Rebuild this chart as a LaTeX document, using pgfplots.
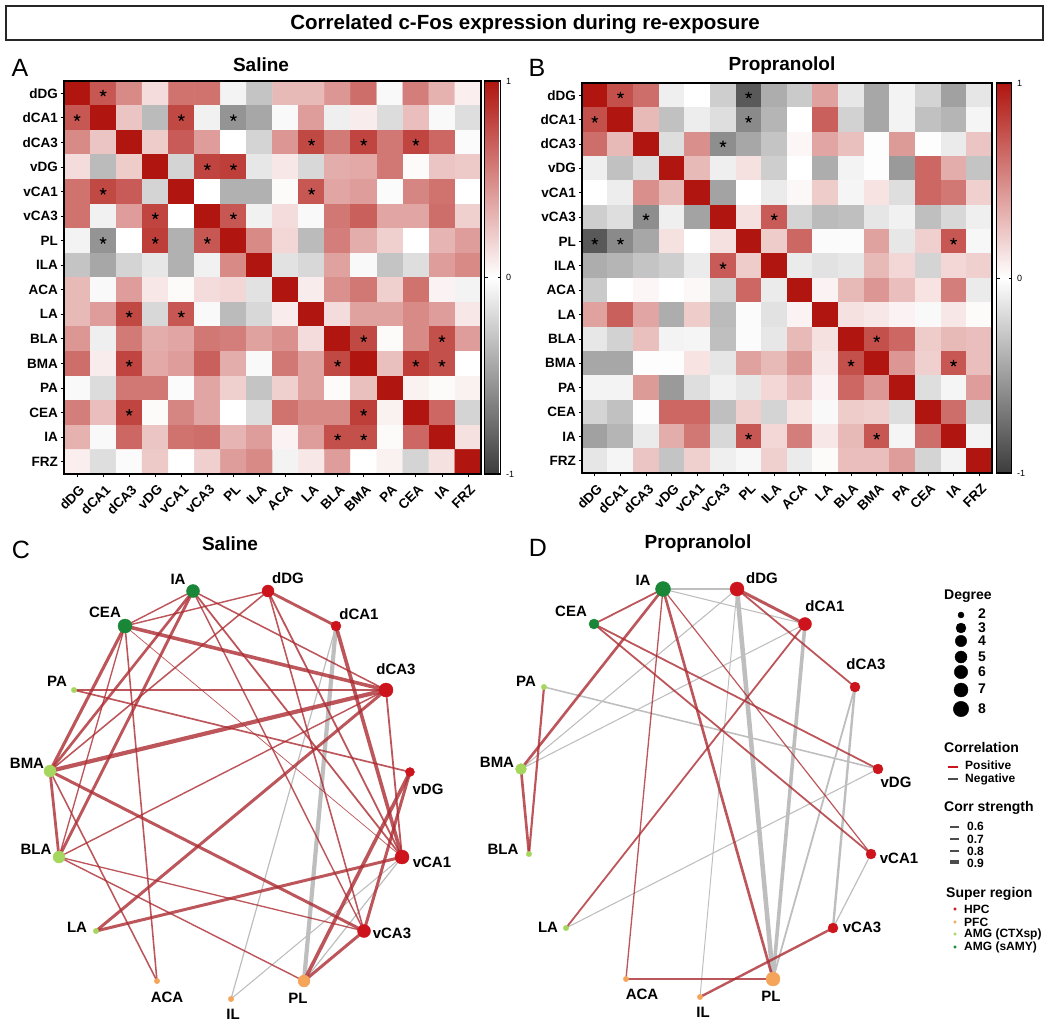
\documentclass[border=0pt]{standalone}
\usepackage{fontspec}
\setmainfont{Liberation Sans}
\usepackage{pgfplots}
\pgfplotsset{compat=1.18}
\definecolor{hpc}{RGB}{205,20,28}
\definecolor{pfc}{RGB}{245,165,90}
\definecolor{ctx}{RGB}{165,215,95}
\definecolor{samy}{RGB}{25,135,55}
\definecolor{pose}{RGB}{172,44,50}
\definecolor{nege}{RGB}{190,190,190}
\newcommand{\fs}[1]{\fontsize{#1}{#1}\selectfont}
\pgfplotsset{
  colormap={corr}{rgb255=(60,60,60) rgb255=(255,255,255) rgb255=(176,21,15)},
  heat/.style={
    scale only axis, enlargelimits=false,
    y dir=reverse,
    xmin=-0.5, xmax=15.5, ymin=-0.5, ymax=15.5,
    point meta min=-1, point meta max=1,
    xtick={0,...,15}, ytick={0,...,15},
    xticklabels={dDG,dCA1,dCA3,vDG,vCA1,vCA3,PL,ILA,ACA,LA,BLA,BMA,PA,CEA,IA,FRZ},
    yticklabels={dDG,dCA1,dCA3,vDG,vCA1,vCA3,PL,ILA,ACA,LA,BLA,BMA,PA,CEA,IA,FRZ},
    xtick pos=lower, xticklabel pos=lower, ytick pos=lower, yticklabel pos=lower,
    tick align=outside, major tick length=3.5pt,
    tick style={black, line width=0.8pt},
    yticklabel style={font=\fs{13.5}\bfseries, xshift=1pt},
    xticklabel style={font=\fs{13.5}\bfseries, rotate=45, anchor=north east, xshift=0pt, yshift=-2pt},
    after end axis/.code={\draw[line width=2pt, black] (rel axis cs:0,0) rectangle (rel axis cs:1,1);},
    colorbar,
  },
  cbar/.style={
    at={(parent axis.north east)}, anchor=north west, xshift=#1,
    ytick={-1,0,1}, yticklabels={-1,0,1},
    yticklabel style={font=\fs{9}, xshift=2pt},
    major tick length=3pt,
    tick style={black, line width=0.6pt},
    ytick pos=both, yticklabel pos=upper, tick align=inside,
    after end axis/.code={\draw[line width=1.5pt, black] (rel axis cs:0,0) rectangle (rel axis cs:1,1);},
  },
  stars/.style={only marks, mark=star, mark size=3.4pt, mark options={black, line width=1.2pt}},
  ep/.style={pose, draw opacity=0.8, no marks, line width=1.2*#1pt},
  en/.style={nege, no marks, line width=1.2*#1pt},
  nd/.style={only marks, mark=*, mark size=#1, mark options={draw=none}},
}
\begin{document}
\begin{tikzpicture}[x=1pt,y=1pt]
\useasboundingbox (0,0) rectangle (1050pt,1025pt);

% page wide axis in pixel coordinates, for both networks and all the text
\begin{axis}[
  at={(0,0)}, anchor=south west, scale only axis, width=1050pt, height=1025pt,
  xmin=0, xmax=1050, ymin=0, ymax=1025, y dir=reverse,
  hide axis, clip=false,
]
\draw[line width=1.6pt, black!85] (axis cs:6,6) rectangle (axis cs:1043,40);
\node[font=\fs{20.5}\bfseries] at (axis cs:525,24) {Correlated c-Fos expression during re-exposure};
\node[font=\fs{19}\bfseries] at (axis cs:261,65) {Saline};
\node[font=\fs{19}\bfseries] at (axis cs:782,66) {Propranolol};
\node[font=\fs{19}\bfseries] at (axis cs:230,544) {Saline};
\node[font=\fs{19}\bfseries] at (axis cs:698,544) {Propranolol};
\node[font=\fs{25}] at (axis cs:20,68) {A};
\node[font=\fs{25}] at (axis cs:537,68) {B};
\node[font=\fs{25}] at (axis cs:21,550) {C};
\node[font=\fs{25}] at (axis cs:538,548) {D};

% C nodes
\addplot[nd=6.5pt, samy] coordinates {(193,591)};
\addplot[nd=7pt, samy] coordinates {(125,626)};
\addplot[nd=6pt, hpc] coordinates {(268,591)};
\addplot[nd=5pt, hpc] coordinates {(336,626)};
\addplot[nd=7pt, hpc] coordinates {(386,690)};
\addplot[nd=4.5pt, hpc] coordinates {(410,772)};
\addplot[nd=7pt, hpc] coordinates {(402,857)};
\addplot[nd=6.5pt, hpc] coordinates {(364,931)};
\addplot[nd=6pt, pfc] coordinates {(304,981)};
\addplot[nd=2.7pt, pfc] coordinates {(231,999)};
\addplot[nd=2.7pt, pfc] coordinates {(157,981)};
\addplot[nd=2.7pt, ctx] coordinates {(96,931)};
\addplot[nd=6pt, ctx] coordinates {(59,857)};
\addplot[nd=6pt, ctx] coordinates {(50,771)};
\addplot[nd=2.7pt, ctx] coordinates {(74,690)};

% C edges, negative
\addplot[en=3.5] coordinates {(336,626)(304,981)};
\addplot[en=1] coordinates {(336,626)(231,999)};
\addplot[en=1] coordinates {(402,857)(304,981)};
\addplot[en=0.9] coordinates {(402,857)(231,999)};
% C edges, positive
\addplot[ep=1.2] coordinates {(125,626)(193,591)};
\addplot[ep=1.2] coordinates {(125,626)(268,591)};
\addplot[ep=2.2] coordinates {(193,591)(50,771)};
\addplot[ep=2.4] coordinates {(193,591)(59,857)};
\addplot[ep=1.3] coordinates {(193,591)(386,690)};
\addplot[ep=1.5] coordinates {(193,591)(402,857)};
\addplot[ep=1.2] coordinates {(193,591)(364,931)};
\addplot[ep=2.4] coordinates {(268,591)(336,626)};
\addplot[ep=1.3] coordinates {(268,591)(50,771)};
\addplot[ep=1.5] coordinates {(268,591)(402,857)};
\addplot[ep=1.3] coordinates {(268,591)(364,931)};
\addplot[ep=3] coordinates {(336,626)(402,857)};
\addplot[ep=1.5] coordinates {(386,690)(74,690)};
\addplot[ep=3.5] coordinates {(386,690)(50,771)};
\addplot[ep=1.2] coordinates {(386,690)(59,857)};
\addplot[ep=2.5] coordinates {(386,690)(96,931)};
\addplot[ep=3] coordinates {(386,690)(125,626)};
\addplot[ep=1.5] coordinates {(386,690)(402,857)};
\addplot[ep=1.4] coordinates {(410,772)(74,690)};
\addplot[ep=2.5] coordinates {(410,772)(364,931)};
\addplot[ep=3] coordinates {(410,772)(304,981)};
\addplot[ep=2.5] coordinates {(402,857)(96,931)};
\addplot[ep=0.6] coordinates {(402,857)(125,626)};
\addplot[ep=2.5] coordinates {(364,931)(50,771)};
\addplot[ep=1.1] coordinates {(364,931)(59,857)};
\addplot[ep=2.5] coordinates {(364,931)(304,981)};
\addplot[ep=1.2] coordinates {(304,981)(59,857)};
\addplot[ep=1.3] coordinates {(157,981)(125,626)};
\addplot[ep=1.3] coordinates {(157,981)(50,771)};
\addplot[ep=2.3] coordinates {(50,771)(59,857)};
\addplot[ep=2.6] coordinates {(50,771)(125,626)};
\addplot[ep=1.1] coordinates {(59,857)(125,626)};

% C labels
\begin{scope}[every node/.style={font=\fs{15}\bfseries}]
\node at (axis cs:178,579) {IA};
\node at (axis cs:288,578) {dDG};
\node at (axis cs:359,614) {dCA1};
\node at (axis cs:396,669) {dCA3};
\node at (axis cs:428,789) {vDG};
\node at (axis cs:432,862) {vCA1};
\node at (axis cs:392,933) {vCA3};
\node at (axis cs:298,998) {PL};
\node at (axis cs:233,1014) {IL};
\node at (axis cs:167,997) {ACA};
\node at (axis cs:77,927) {LA};
\node at (axis cs:36,849) {BLA};
\node at (axis cs:27,763) {BMA};
\node at (axis cs:57,681) {PA};
\node at (axis cs:105,612) {CEA};
\end{scope}

% D nodes
\addplot[nd=7.5pt, samy] coordinates {(663,589)};
\addplot[nd=5pt, samy] coordinates {(594,624)};
\addplot[nd=7pt, hpc] coordinates {(737,589)};
\addplot[nd=6.5pt, hpc] coordinates {(805,624)};
\addplot[nd=5pt, hpc] coordinates {(855,687)};
\addplot[nd=5pt, hpc] coordinates {(878,769)};
\addplot[nd=5pt, hpc] coordinates {(871,854)};
\addplot[nd=5pt, hpc] coordinates {(833,928)};
\addplot[nd=7pt, pfc] coordinates {(773,979)};
\addplot[nd=2.7pt, pfc] coordinates {(700,997)};
\addplot[nd=2.7pt, pfc] coordinates {(626,979)};
\addplot[nd=2.7pt, ctx] coordinates {(566,928)};
\addplot[nd=2.7pt, ctx] coordinates {(529,854)};
\addplot[nd=5.5pt, ctx] coordinates {(521,769)};
\addplot[nd=2.7pt, ctx] coordinates {(544,687)};

% D edges, negative
\addplot[en=1.3] coordinates {(663,589)(737,589)};
\addplot[en=0.9] coordinates {(663,589)(805,624)};
\addplot[en=0.9] coordinates {(737,589)(521,769)};
\addplot[en=3.8] coordinates {(737,589)(773,979)};
\addplot[en=0.8] coordinates {(737,589)(700,997)};
\addplot[en=0.9] coordinates {(805,624)(521,769)};
\addplot[en=3] coordinates {(805,624)(773,979)};
\addplot[en=1.5] coordinates {(855,687)(773,979)};
\addplot[en=2] coordinates {(855,687)(833,928)};
\addplot[en=1.3] coordinates {(544,687)(878,769)};
\addplot[en=0.9] coordinates {(878,769)(566,928)};
\addplot[en=1] coordinates {(871,854)(833,928)};
% D edges, positive
\addplot[ep=1.5] coordinates {(663,589)(594,624)};
\addplot[ep=2.2] coordinates {(663,589)(521,769)};
\addplot[ep=1.1] coordinates {(663,589)(626,979)};
\addplot[ep=2.2] coordinates {(663,589)(773,979)};
\addplot[ep=1] coordinates {(663,589)(871,854)};
\addplot[ep=2.5] coordinates {(737,589)(805,624)};
\addplot[ep=1.5] coordinates {(737,589)(855,687)};
\addplot[ep=1.5] coordinates {(805,624)(566,928)};
\addplot[ep=1.5] coordinates {(594,624)(878,769)};
\addplot[ep=1.5] coordinates {(594,624)(871,854)};
\addplot[ep=1.8] coordinates {(544,687)(529,854)};
\addplot[ep=2.2] coordinates {(521,769)(529,854)};
\addplot[ep=1.6] coordinates {(626,979)(773,979)};
\addplot[ep=2] coordinates {(700,997)(833,928)};

% D labels
\begin{scope}[every node/.style={font=\fs{15}\bfseries}]
\node at (axis cs:643,580) {IA};
\node at (axis cs:762,578) {dDG};
\node at (axis cs:825,606) {dCA1};
\node at (axis cs:866,664) {dCA3};
\node at (axis cs:896,782) {vDG};
\node at (axis cs:899,858) {vCA1};
\node at (axis cs:862,927) {vCA3};
\node at (axis cs:771,996) {PL};
\node at (axis cs:703,1012) {IL};
\node at (axis cs:642,994) {ACA};
\node at (axis cs:548,927) {LA};
\node at (axis cs:503,849) {BLA};
\node at (axis cs:497,762) {BMA};
\node at (axis cs:526,681) {PA};
\node at (axis cs:571,611) {CEA};
\end{scope}

% legends
\begin{scope}[every node/.style={font=\fs{14}\bfseries, anchor=west, inner sep=0pt}]
\node at (axis cs:944,596) {Degree};
\node at (axis cs:944,747) {Correlation};
\node at (axis cs:944,808) {Corr strength};
\node at (axis cs:946,894) {Super region};
\node at (axis cs:978,614) {2};
\node at (axis cs:978,628) {3};
\node at (axis cs:978,641) {4};
\node at (axis cs:978,657) {5};
\node at (axis cs:978,672) {6};
\node at (axis cs:978,689) {7};
\node at (axis cs:978,709) {8};
\end{scope}
\begin{scope}[every node/.style={font=\fs{12}\bfseries, anchor=west, inner sep=0pt}]
\node at (axis cs:965,765) {Positive};
\node at (axis cs:965,779) {Negative};
\node at (axis cs:967,826) {0.6};
\node at (axis cs:967,839) {0.7};
\node at (axis cs:967,851) {0.8};
\node at (axis cs:967,863) {0.9};
\node at (axis cs:964,909) {HPC};
\node at (axis cs:964,922) {PFC};
\node at (axis cs:964,934) {AMG (CTXsp)};
\node at (axis cs:964,947) {AMG (sAMY)};
\end{scope}
\addplot[nd=3pt, black] coordinates {(961,615)};
\addplot[nd=5pt, black] coordinates {(961,628)};
\addplot[nd=5.7pt, black] coordinates {(961,641)};
\addplot[nd=6pt, black] coordinates {(961,657)};
\addplot[nd=6.7pt, black] coordinates {(961,672)};
\addplot[nd=7pt, black] coordinates {(961,690)};
\addplot[nd=7.7pt, black] coordinates {(961,709)};
\addplot[hpc, line width=1.3pt, no marks] coordinates {(948,767)(958,767)};
\addplot[black!70, line width=1.3pt, no marks] coordinates {(948,779)(958,779)};
\addplot[black!70, line width=1.2pt, no marks] coordinates {(950,827)(959,827)};
\addplot[black!70, line width=1.8pt, no marks] coordinates {(950,839)(959,839)};
\addplot[black!70, line width=2.6pt, no marks] coordinates {(950,851)(959,851)};
\addplot[black!70, line width=3.6pt, no marks] coordinates {(950,862)(959,862)};
\addplot[nd=1.3pt, hpc] coordinates {(955,909)};
\addplot[nd=1.3pt, pfc] coordinates {(955,922)};
\addplot[nd=1.3pt, ctx] coordinates {(955,934)};
\addplot[nd=1.3pt, samy] coordinates {(955,947)};
\end{axis}

% A: Saline
\begin{axis}[
  heat, at={(64pt,944pt)}, anchor=north west, width=417pt, height=393pt,
  colorbar style={cbar=-5pt, width=16pt, height=393pt},
]
\addplot[matrix plot*, mesh/cols=16, point meta=explicit] coordinates {
(0,0)[1] (1,0)[.72] (2,0)[.5] (3,0)[.15] (4,0)[.6] (5,0)[.6] (6,0)[-.06] (7,0)[-.3] (8,0)[.3] (9,0)[.3] (10,0)[.45] (11,0)[.62] (12,0)[-.03] (13,0)[.55] (14,0)[.33] (15,0)[.07]
(0,1)[.72] (1,1)[1] (2,1)[.25] (3,1)[-.35] (4,1)[.78] (5,1)[-.07] (6,1)[-.55] (7,1)[-.45] (8,1)[-.03] (9,1)[.42] (10,1)[-.08] (11,1)[.08] (12,1)[-.18] (13,1)[.28] (14,1)[-.03] (15,1)[-.17]
(0,2)[.5] (1,2)[.25] (2,2)[1] (3,2)[.22] (4,2)[.7] (5,2)[.42] (6,2)[0] (7,2)[-.22] (8,2)[.45] (9,2)[.78] (10,2)[.57] (11,2)[.8] (12,2)[.58] (13,2)[.8] (14,2)[.65] (15,2)[-.02]
(0,3)[.15] (1,3)[-.35] (2,3)[.22] (3,3)[1] (4,3)[-.22] (5,3)[.8] (6,3)[.82] (7,3)[-.12] (8,3)[.1] (9,3)[-.2] (10,3)[.35] (11,3)[.37] (12,3)[.58] (13,3)[.02] (14,3)[.25] (15,3)[.23]
(0,4)[.6] (1,4)[.78] (2,4)[.7] (3,4)[-.22] (4,4)[1] (5,4)[0] (6,4)[-.4] (7,4)[-.4] (8,4)[.02] (9,4)[.72] (10,4)[.38] (11,4)[.42] (12,4)[-.02] (13,4)[.52] (14,4)[.6] (15,4)[0]
(0,5)[.6] (1,5)[-.07] (2,5)[.42] (3,5)[.8] (4,5)[0] (5,5)[1] (6,5)[.72] (7,5)[-.07] (8,5)[.15] (9,5)[-.03] (10,5)[.58] (11,5)[.68] (12,5)[.38] (13,5)[.38] (14,5)[.62] (15,5)[.2]
(0,6)[-.06] (1,6)[-.55] (2,6)[0] (3,6)[.82] (4,6)[-.4] (5,6)[.72] (6,6)[1] (7,6)[.5] (8,6)[.17] (9,6)[-.35] (10,6)[.55] (11,6)[.35] (12,6)[.2] (13,6)[0] (14,6)[.32] (15,6)[.42]
(0,7)[-.3] (1,7)[-.45] (2,7)[-.22] (3,7)[-.12] (4,7)[-.4] (5,7)[-.07] (6,7)[.5] (7,7)[1] (8,7)[-.15] (9,7)[-.2] (10,7)[.4] (11,7)[-.03] (12,7)[-.3] (13,7)[-.17] (14,7)[.42] (15,7)[.5]
(0,8)[.3] (1,8)[-.03] (2,8)[.42] (3,8)[.1] (4,8)[.02] (5,8)[.15] (6,8)[.17] (7,8)[-.15] (8,8)[1] (9,8)[.08] (10,8)[.47] (11,8)[.58] (12,8)[.2] (13,8)[.6] (14,8)[.05] (15,8)[-.06]
(0,9)[.3] (1,9)[.42] (2,9)[.78] (3,9)[-.2] (4,9)[.72] (5,9)[-.03] (6,9)[-.35] (7,9)[-.2] (8,9)[.08] (9,9)[1] (10,9)[.15] (11,9)[.4] (12,9)[.4] (13,9)[.5] (14,9)[.42] (15,9)[.1]
(0,10)[.45] (1,10)[-.08] (2,10)[.57] (3,10)[.35] (4,10)[.38] (5,10)[.58] (6,10)[.55] (7,10)[.4] (8,10)[.47] (9,10)[.15] (10,10)[1] (11,10)[.78] (12,10)[.02] (13,10)[.5] (14,10)[.75] (15,10)[.42]
(0,11)[.62] (1,11)[.08] (2,11)[.8] (3,11)[.37] (4,11)[.42] (5,11)[.68] (6,11)[.35] (7,11)[-.03] (8,11)[.58] (9,11)[.4] (10,11)[.78] (11,11)[1] (12,11)[.27] (13,11)[.82] (14,11)[.75] (15,11)[0]
(0,12)[-.03] (1,12)[-.18] (2,12)[.58] (3,12)[.58] (4,12)[-.02] (5,12)[.38] (6,12)[.2] (7,12)[-.3] (8,12)[.2] (9,12)[.4] (10,12)[.02] (11,12)[.27] (12,12)[1] (13,12)[.06] (14,12)[.02] (15,12)[.06]
(0,13)[.55] (1,13)[.28] (2,13)[.8] (3,13)[.02] (4,13)[.52] (5,13)[.38] (6,13)[0] (7,13)[-.17] (8,13)[.6] (9,13)[.5] (10,13)[.5] (11,13)[.82] (12,13)[.06] (13,13)[1] (14,13)[.65] (15,13)[-.22]
(0,14)[.33] (1,14)[-.03] (2,14)[.65] (3,14)[.25] (4,14)[.6] (5,14)[.62] (6,14)[.32] (7,14)[.42] (8,14)[.05] (9,14)[.42] (10,14)[.75] (11,14)[.75] (12,14)[.02] (13,14)[.65] (14,14)[1] (15,14)[.13]
(0,15)[.07] (1,15)[-.17] (2,15)[-.02] (3,15)[.23] (4,15)[0] (5,15)[.2] (6,15)[.42] (7,15)[.5] (8,15)[-.06] (9,15)[.1] (10,15)[.42] (11,15)[0] (12,15)[.06] (13,15)[-.22] (14,15)[.13] (15,15)[1]
};
\addplot[stars] coordinates {
(1,0) (0,1) (4,1) (6,1) (9,2) (11,2) (13,2) (5,3) (6,3) (1,4) (9,4) (3,5) (6,5)
(1,6) (3,6) (5,6) (2,9) (4,9) (11,10) (14,10) (2,11) (10,11) (13,11) (14,11)
(2,13) (11,13) (10,14) (11,14)
};
\end{axis}

% B: Propranolol
\begin{axis}[
  heat, at={(582pt,942pt)}, anchor=north west, width=410pt, height=390pt,
  colorbar style={cbar=-4pt, width=15pt, height=390pt},
]
\addplot[matrix plot*, mesh/cols=16, point meta=explicit] coordinates {
(0,0)[1] (1,0)[.75] (2,0)[.62] (3,0)[-.08] (4,0)[0] (5,0)[-.25] (6,0)[-.85] (7,0)[-.42] (8,0)[-.27] (9,0)[.4] (10,0)[-.12] (11,0)[-.45] (12,0)[-.06] (13,0)[-.22] (14,0)[-.48] (15,0)[-.13]
(0,1)[.75] (1,1)[1] (2,1)[.3] (3,1)[-.32] (4,1)[-.09] (5,1)[-.17] (6,1)[-.6] (7,1)[-.38] (8,1)[0] (9,1)[.68] (10,1)[-.23] (11,1)[-.45] (12,1)[-.06] (13,1)[-.32] (14,1)[-.38] (15,1)[-.05]
(0,2)[.62] (1,2)[.3] (2,2)[1] (3,2)[-.17] (4,2)[.48] (5,2)[-.58] (6,2)[-.45] (7,2)[-.3] (8,2)[.04] (9,2)[.38] (10,2)[.27] (11,2)[-.01] (12,2)[.43] (13,2)[-.01] (14,2)[-.1] (15,2)[.25]
(0,3)[-.08] (1,3)[-.32] (2,3)[-.17] (3,3)[1] (4,3)[.3] (5,3)[-.08] (6,3)[.13] (7,3)[-.25] (8,3)[0] (9,3)[-.42] (10,3)[-.06] (11,3)[-.01] (12,3)[-.52] (13,3)[.65] (14,3)[.35] (15,3)[-.3]
(0,4)[0] (1,4)[-.09] (2,4)[.48] (3,4)[.3] (4,4)[1] (5,4)[-.47] (6,4)[0] (7,4)[-.1] (8,4)[.03] (9,4)[.22] (10,4)[-.05] (11,4)[.12] (12,4)[-.17] (13,4)[.65] (14,4)[.58] (15,4)[.2]
(0,5)[-.25] (1,5)[-.17] (2,5)[-.58] (3,5)[-.08] (4,5)[-.47] (5,5)[1] (6,5)[.13] (7,5)[.7] (8,5)[-.22] (9,5)[-.35] (10,5)[-.33] (11,5)[-.13] (12,5)[-.07] (13,5)[-.33] (14,5)[-.2] (15,5)[-.08]
(0,6)[-.85] (1,6)[-.6] (2,6)[-.45] (3,6)[.13] (4,6)[0] (5,6)[.13] (6,6)[1] (7,6)[.22] (8,6)[.65] (9,6)[-.02] (10,6)[-.02] (11,6)[.4] (12,6)[-.12] (13,6)[.2] (14,6)[.72] (15,6)[-.04]
(0,7)[-.42] (1,7)[-.38] (2,7)[-.3] (3,7)[-.25] (4,7)[-.1] (5,7)[.7] (6,7)[.22] (7,7)[1] (8,7)[-.1] (9,7)[-.15] (10,7)[-.12] (11,7)[.3] (12,7)[.17] (13,7)[-.22] (14,7)[.17] (15,7)[.2]
(0,8)[-.27] (1,8)[0] (2,8)[.04] (3,8)[0] (4,8)[.03] (5,8)[-.22] (6,8)[.65] (7,8)[-.1] (8,8)[1] (9,8)[.05] (10,8)[.3] (11,8)[.45] (12,8)[.28] (13,8)[.12] (14,8)[.55] (15,8)[-.1]
(0,9)[.4] (1,9)[.68] (2,9)[.38] (3,9)[-.42] (4,9)[.22] (5,9)[-.35] (6,9)[-.02] (7,9)[-.15] (8,9)[.05] (9,9)[1] (10,9)[.13] (11,9)[.1] (12,9)[.05] (13,9)[-.03] (14,9)[.1] (15,9)[.02]
(0,10)[-.12] (1,10)[-.23] (2,10)[.27] (3,10)[-.06] (4,10)[-.05] (5,10)[-.33] (6,10)[-.02] (7,10)[-.12] (8,10)[.3] (9,10)[.13] (10,10)[1] (11,10)[.75] (12,10)[.65] (13,10)[.22] (14,10)[.3] (15,10)[.28]
(0,11)[-.45] (1,11)[-.45] (2,11)[-.01] (3,11)[-.01] (4,11)[.12] (5,11)[-.13] (6,11)[.4] (7,11)[.3] (8,11)[.45] (9,11)[.1] (10,11)[.75] (11,11)[1] (12,11)[.45] (13,11)[.2] (14,11)[.72] (15,11)[.28]
(0,12)[-.06] (1,12)[-.06] (2,12)[.43] (3,12)[-.52] (4,12)[-.17] (5,12)[-.07] (6,12)[-.12] (7,12)[.17] (8,12)[.28] (9,12)[.05] (10,12)[.65] (11,12)[.45] (12,12)[1] (13,12)[-.17] (14,12)[-.05] (15,12)[.42]
(0,13)[-.22] (1,13)[-.32] (2,13)[-.01] (3,13)[.65] (4,13)[.65] (5,13)[-.33] (6,13)[.2] (7,13)[-.22] (8,13)[.12] (9,13)[-.03] (10,13)[.22] (11,13)[.2] (12,13)[-.17] (13,13)[1] (14,13)[.62] (15,13)[-.22]
(0,14)[-.48] (1,14)[-.38] (2,14)[-.1] (3,14)[.35] (4,14)[.58] (5,14)[-.2] (6,14)[.72] (7,14)[.17] (8,14)[.55] (9,14)[.1] (10,14)[.3] (11,14)[.72] (12,14)[-.05] (13,14)[.62] (14,14)[1] (15,14)[-.06]
(0,15)[-.13] (1,15)[-.05] (2,15)[.25] (3,15)[-.3] (4,15)[.2] (5,15)[-.08] (6,15)[-.04] (7,15)[.2] (8,15)[-.1] (9,15)[.02] (10,15)[.28] (11,15)[.28] (12,15)[.42] (13,15)[-.22] (14,15)[-.06] (15,15)[1]
};
\addplot[stars] coordinates {
(1,0) (6,0) (0,1) (6,1) (5,2) (2,5) (7,5) (0,6) (1,6) (14,6) (5,7)
(11,10) (10,11) (14,11) (6,14) (11,14)
};
\end{axis}
\end{tikzpicture}
\end{document}
